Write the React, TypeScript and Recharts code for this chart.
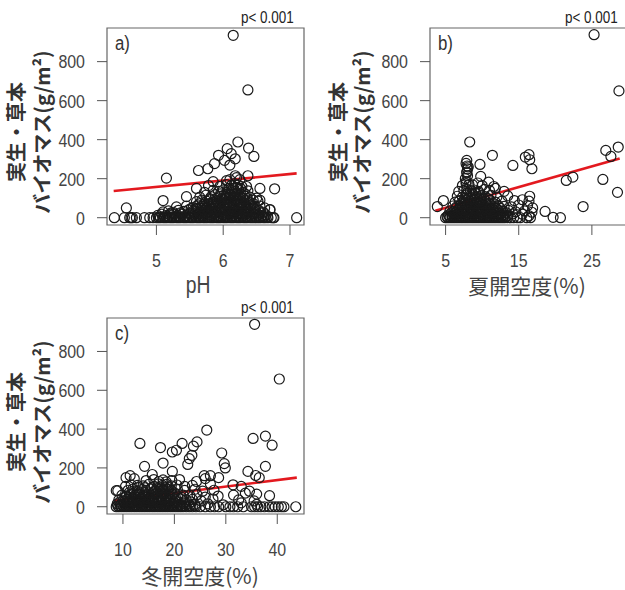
import React from "react";
import { ScatterChart, Scatter, XAxis, YAxis, ReferenceArea, ReferenceLine } from "recharts";

// biomass axis is shared by the three panels
const yTicks = [0, 200, 400, 600, 800];
const yDomain: [number, number] = [-37.4, 972.4];

// a) pH
const phTicks = [5, 6, 7];
const phDomain: [number, number] = [4.26, 7.21];
const phFit = [
  { x: 4.36, y: 137 },
  { x: 7.1, y: 227 },
];
const phPoints: [number, number][] = [
  [4.37, 0], [4.52, 0], [4.6, 0], [4.62, 0], [4.64, 0], [4.7, 0], [4.82, 0], [4.9, 0], [4.95, 0], [5.0, 0],
  [5.03, 0], [5.06, 0], [5.1, 0], [5.13, 0], [5.16, 0], [5.2, 0], [5.23, 0], [5.26, 0], [5.3, 0], [5.33, 0],
  [5.36, 0], [5.4, 0], [5.43, 0], [5.46, 0], [5.5, 0], [5.53, 0], [5.56, 0], [5.6, 0], [5.63, 0], [5.66, 0],
  [5.7, 0], [5.73, 0], [5.76, 0], [5.8, 0], [5.83, 0], [5.86, 0], [5.9, 0], [5.93, 0], [5.96, 0], [6.0, 0],
  [6.03, 0], [6.06, 0], [6.1, 0], [6.13, 0], [6.16, 0], [6.2, 0], [6.23, 0], [6.26, 0], [6.3, 0], [6.33, 0],
  [6.36, 0], [6.4, 0], [6.43, 0], [6.46, 0], [6.5, 0], [6.53, 0], [6.56, 0], [6.6, 0], [6.63, 0], [6.67, 0],
  [6.72, 0], [6.75, 0], [6.76, 0], [7.1, 0],
  [5.05, 5], [5.12, 5], [5.18, 5], [5.24, 5], [5.29, 5], [5.35, 5], [5.42, 5], [5.48, 5], [5.53, 5], [5.58, 5],
  [5.64, 5], [5.69, 5], [5.75, 5], [5.81, 5], [5.87, 5], [5.91, 5], [5.97, 5], [6.02, 5], [6.07, 5], [6.12, 5],
  [6.18, 5], [6.24, 5], [6.29, 5], [6.35, 5], [6.42, 5], [6.48, 5], [6.54, 5], [6.6, 5], [6.66, 5],
  [5.02, 12], [5.08, 18], [5.14, 10], [5.2, 15], [5.26, 20], [5.32, 12], [5.38, 18], [5.44, 10], [5.5, 20], [5.56, 14],
  [5.62, 18], [5.68, 12], [5.74, 20], [5.8, 15], [5.86, 18], [5.92, 12], [5.98, 20], [6.04, 15], [6.1, 18], [6.16, 12],
  [6.22, 20], [6.28, 15], [6.34, 18], [6.4, 12], [6.46, 20], [6.52, 14], [6.58, 10], [6.64, 15],
  [5.22, 25], [5.36, 25], [5.5, 25], [5.58, 25], [5.64, 25], [5.7, 25], [5.76, 25], [5.83, 25], [5.9, 25], [5.96, 25],
  [6.02, 25], [6.08, 25], [6.13, 25], [6.18, 25], [6.23, 25], [6.28, 25], [6.33, 25], [6.38, 25], [6.44, 25], [6.5, 25],
  [6.56, 25],
  [5.1, 30], [5.18, 35], [5.25, 28], [5.33, 38], [5.41, 32], [5.48, 40], [5.55, 35], [5.6, 42], [5.66, 30], [5.71, 38],
  [5.77, 35], [5.82, 42], [5.88, 32], [5.93, 40], [5.99, 36], [6.04, 42], [6.09, 30], [6.14, 38], [6.19, 35], [6.24, 42],
  [6.3, 32], [6.35, 40], [6.41, 35], [6.47, 30], [6.53, 38], [6.6, 28], [6.7, 42],
  [5.52, 48], [5.6, 48], [5.67, 48], [5.74, 48], [5.81, 48], [5.87, 48], [5.93, 48], [5.98, 48], [6.03, 48], [6.08, 48],
  [6.13, 48], [6.18, 48], [6.23, 48], [6.28, 48], [6.33, 48], [6.4, 48], [6.46, 48],
  [5.3, 55], [5.45, 60], [5.55, 52], [5.62, 65], [5.68, 58], [5.73, 62], [5.79, 55], [5.84, 66], [5.9, 58], [5.95, 62],
  [6.0, 56], [6.05, 66], [6.1, 60], [6.15, 55], [6.2, 65], [6.25, 58], [6.3, 62], [6.36, 55], [6.42, 65], [6.48, 58],
  [6.55, 60], [6.62, 50],
  [5.65, 72], [5.72, 72], [5.78, 72], [5.84, 72], [5.9, 72], [5.96, 72], [6.01, 72], [6.06, 72], [6.11, 72], [6.16, 72],
  [6.21, 72], [6.26, 72], [6.32, 72], [6.38, 72], [6.45, 72],
  [5.6, 82], [5.68, 90], [5.75, 85], [5.8, 92], [5.86, 80], [5.91, 88], [5.97, 84], [6.02, 92], [6.07, 80], [6.12, 90],
  [6.17, 85], [6.22, 92], [6.27, 82], [6.33, 88], [6.39, 80], [6.45, 90], [6.52, 85],
  [5.8, 98], [5.9, 98], [5.98, 98], [6.04, 98], [6.1, 98], [6.15, 98], [6.2, 98], [6.25, 98], [6.3, 98], [6.36, 98],
  [5.65, 105], [5.74, 115], [5.82, 108], [5.88, 118], [5.95, 110], [6.01, 115], [6.06, 105], [6.11, 118], [6.16, 110], [6.21, 115],
  [6.26, 108], [6.32, 112], [6.4, 105], [6.5, 100],
  [5.96, 122], [6.05, 122], [6.1, 122], [6.16, 122], [6.21, 122], [6.26, 122], [6.33, 122],
  [5.72, 130], [5.85, 140], [5.93, 135], [6.0, 142], [6.07, 132], [6.13, 140], [6.18, 135], [6.23, 145], [6.29, 130], [6.37, 138],
  [6.55, 150], [6.08, 150], [6.15, 150], [6.2, 150], [6.26, 150],
  [5.78, 165], [5.95, 160], [6.05, 170], [6.12, 165], [6.17, 175], [6.22, 168], [6.28, 160], [6.35, 160], [6.77, 148],
  [5.15, 203], [5.85, 185], [6.1, 195], [6.2, 205], [6.25, 195], [6.18, 215], [6.37, 215], [6.05, 190],
  [5.63, 242], [5.77, 251], [5.87, 277], [5.93, 320], [6.02, 294], [6.06, 354], [6.12, 328], [6.18, 302], [6.1, 270], [6.22, 388],
  [6.38, 357], [6.46, 314], [6.15, 935], [6.37, 655], [5.1, 88], [4.55, 50], [5.45, 108], [6.55, 90], [6.7, 40], [5.6, 150],
];

// b) summer openness
const sumTicks = [5, 15, 25];
const sumDomain: [number, number] = [2.87, 29.8];
const sumFit = [
  { x: 3.6, y: 36 },
  { x: 28.8, y: 304 },
];
const sumPoints: [number, number][] = [
  [5.0, 0], [5.3, 0], [5.6, 0], [5.9, 0], [6.2, 0], [6.5, 0], [6.8, 0], [7.1, 0], [7.4, 0], [7.7, 0],
  [8.0, 0], [8.3, 0], [8.6, 0], [8.9, 0], [9.2, 0], [9.5, 0], [9.8, 0], [10.1, 0], [10.4, 0], [10.7, 0],
  [11.0, 0], [11.3, 0], [11.6, 0], [11.9, 0], [12.2, 0], [12.5, 0], [12.8, 0], [13.1, 0], [13.5, 0], [13.9, 0],
  [14.3, 0], [14.8, 0], [15.2, 0], [16.1, 0], [16.6, 0], [19.7, 2], [20.7, 0],
  [5.2, 6], [5.55, 6], [5.9, 6], [6.25, 6], [6.6, 6], [6.95, 6], [7.3, 6], [7.65, 6], [8.0, 6], [8.35, 6],
  [8.7, 6], [9.05, 6], [9.4, 6], [9.75, 6], [10.1, 6], [10.45, 6], [10.8, 6], [11.15, 6], [11.5, 6], [11.85, 6],
  [12.2, 6], [12.55, 6], [12.9, 6], [13.3, 6],
  [5.4, 15], [5.9, 12], [6.4, 18], [6.9, 14], [7.4, 20], [7.9, 12], [8.4, 18], [8.9, 15], [9.4, 20], [9.9, 12],
  [10.4, 18], [10.9, 14], [11.4, 20], [11.9, 12], [12.4, 18], [12.9, 15], [13.5, 10], [14.2, 20], [15.5, 18], [16.4, 10],
  [5.8, 25], [6.3, 25], [6.8, 25], [7.2, 25], [7.6, 25], [8.0, 25], [8.4, 25], [8.8, 25], [9.2, 25], [9.6, 25],
  [10.0, 25], [10.4, 25], [10.8, 25], [11.2, 25], [11.7, 25], [12.2, 25], [12.7, 25], [13.3, 25],
  [5.6, 35], [6.1, 32], [6.6, 38], [7.1, 30], [7.6, 40], [8.1, 35], [8.6, 38], [9.1, 32], [9.6, 40], [10.1, 34],
  [10.6, 38], [11.1, 30], [11.6, 36], [12.1, 40], [12.8, 32], [13.6, 38], [14.6, 30], [15.8, 35], [18.6, 32], [16.8, 28],
  [6.4, 48], [6.9, 48], [7.3, 48], [7.7, 48], [8.1, 48], [8.5, 48], [8.9, 48], [9.3, 48], [9.7, 48], [10.1, 48],
  [10.5, 48], [10.9, 48], [11.4, 48], [11.9, 48], [12.5, 48],
  [6.0, 60], [6.5, 55], [7.0, 62], [7.5, 58], [8.0, 65], [8.5, 55], [9.0, 62], [9.5, 58], [10.0, 64], [10.5, 55],
  [11.0, 60], [11.5, 56], [12.2, 62], [13.0, 58], [14.0, 55], [15.0, 65], [16.2, 62], [3.87, 57], [23.8, 57], [16.9, 50],
  [7.1, 72], [7.6, 72], [8.0, 72], [8.4, 72], [8.8, 72], [9.2, 72], [9.6, 72], [10.0, 72], [10.5, 72], [11.0, 72],
  [11.6, 72],
  [4.7, 88], [6.3, 80], [6.9, 88], [7.4, 82], [7.9, 90], [8.4, 85], [8.9, 92], [9.4, 80], [9.9, 88], [10.5, 84],
  [11.1, 90], [11.8, 80], [12.7, 85], [14.4, 88], [15.5, 92], [16.4, 85],
  [7.6, 98], [8.1, 98], [8.5, 98], [8.9, 98], [9.3, 98], [9.7, 98], [10.2, 98], [10.8, 98],
  [6.6, 110], [7.3, 105], [7.8, 115], [8.3, 110], [8.8, 118], [9.3, 105], [9.8, 112], [10.4, 108], [11.2, 115], [12.0, 105],
  [13.5, 112], [16.5, 110], [7.9, 125], [8.6, 125], [9.1, 125], [9.6, 125],
  [6.8, 135], [7.5, 140], [7.9, 145], [8.4, 138], [8.9, 142], [9.5, 135], [10.3, 145], [11.0, 140], [11.8, 150], [13.0, 135],
  [7.3, 165], [7.8, 175], [8.2, 170], [8.7, 168], [9.4, 178], [10.0, 165], [10.9, 182], [11.6, 160],
  [7.8, 185], [8.0, 215], [7.9, 235], [8.1, 260],
  [7.7, 200], [7.9, 230], [8.0, 250], [7.8, 278], [7.9, 294], [7.95, 265], [8.3, 388], [9.7, 273], [9.8, 212], [11.4, 320],
  [14.2, 268], [15.9, 311], [16.4, 323], [16.5, 297], [16.8, 251], [21.5, 191], [22.4, 208], [26.5, 196], [26.9, 345], [27.6, 314],
  [28.6, 362], [28.5, 130], [25.3, 938], [28.7, 650],
];

// c) winter openness
const winTicks = [10, 20, 30, 40];
const winDomain: [number, number] = [6.9, 45.2];
const winFit = [
  { x: 8.3, y: 31 },
  { x: 43.8, y: 150 },
];
const winPoints: [number, number][] = [
  [8.7, 0], [9.2, 0], [9.7, 0], [10.2, 0], [10.7, 0], [11.2, 0], [11.7, 0], [12.2, 0], [12.7, 0], [13.2, 0],
  [13.7, 0], [14.2, 0], [14.7, 0], [15.2, 0], [15.7, 0], [16.2, 0], [16.7, 0], [17.2, 0], [17.7, 0], [18.2, 0],
  [18.7, 0], [19.2, 0], [19.7, 0], [20.2, 0], [20.7, 0], [21.2, 0], [21.7, 0], [22.3, 0], [22.9, 0], [23.5, 0],
  [24.2, 0], [25.0, 0], [26.0, 0], [27.0, 0], [27.8, 0], [28.6, 0], [30.0, 0], [30.8, 0], [31.5, 0], [32.3, 0],
  [33.4, 0], [35.0, 0], [35.6, 0], [36.2, 0], [36.8, 0], [37.5, 0], [38.4, 0], [39.0, 0], [39.6, 0], [40.2, 0],
  [40.8, 0], [41.3, 0], [43.6, 0],
  [9.0, 5], [9.5, 5], [10.0, 5], [10.5, 5], [11.0, 5], [11.5, 5], [12.0, 5], [12.5, 5], [13.0, 5], [13.5, 5],
  [14.0, 5], [14.5, 5], [15.0, 5], [15.5, 5], [16.0, 5], [16.5, 5], [17.0, 5], [17.5, 5], [18.0, 5], [18.5, 5],
  [19.0, 5], [19.5, 5], [20.0, 5], [20.5, 5], [21.0, 5], [21.5, 5], [22.0, 5], [23.0, 5], [24.0, 5],
  [8.9, 15], [9.6, 12], [10.3, 18], [11.0, 14], [11.7, 20], [12.4, 12], [13.1, 18], [13.8, 15], [14.5, 20], [15.2, 12],
  [15.9, 18], [16.6, 14], [17.3, 20], [18.0, 12], [18.7, 18], [19.4, 15], [20.1, 20], [20.9, 12], [21.8, 18], [22.8, 15],
  [24.0, 12], [26.5, 15], [29.5, 10], [33.0, 20], [36.0, 12],
  [9.4, 25], [10.2, 25], [11.0, 25], [11.8, 25], [12.6, 25], [13.4, 25], [14.2, 25], [15.0, 25], [15.8, 25], [16.6, 25],
  [17.4, 25], [18.2, 25], [19.0, 25], [19.8, 25], [20.8, 25], [22.0, 25], [23.2, 25],
  [9.2, 35], [10.0, 30], [10.8, 38], [11.5, 32], [12.2, 40], [12.9, 34], [13.6, 38], [14.3, 30], [15.0, 40], [15.7, 35],
  [16.4, 38], [17.1, 32], [17.8, 40], [18.5, 34], [19.3, 38], [20.2, 30], [21.2, 40], [22.3, 35], [23.5, 38], [25.2, 30],
  [27.5, 40], [32.5, 35], [35.5, 30],
  [10.4, 48], [11.2, 48], [12.0, 48], [12.8, 48], [13.6, 48], [14.4, 48], [15.2, 48], [16.0, 48], [16.8, 48], [17.6, 48],
  [18.4, 48], [19.2, 48], [20.2, 48], [21.4, 48],
  [9.8, 60], [10.7, 55], [11.5, 62], [12.3, 58], [13.1, 65], [13.9, 55], [14.7, 62], [15.5, 58], [16.3, 65], [17.1, 55],
  [17.9, 62], [18.7, 58], [19.6, 64], [20.6, 55], [21.7, 60], [23.0, 58], [24.4, 62], [26.0, 50], [28.5, 55], [31.5, 60],
  [33.8, 70], [36.0, 65], [38.5, 57],
  [11.2, 72], [12.2, 72], [13.2, 72], [14.2, 72], [15.0, 72], [15.8, 72], [16.6, 72], [17.4, 72], [18.2, 72], [19.0, 72],
  [20.0, 72],
  [9.0, 83], [11.0, 85], [11.9, 90], [12.8, 82], [13.6, 88], [14.5, 84], [15.4, 92], [16.2, 80], [17.0, 88], [17.8, 85],
  [18.6, 90], [19.5, 82], [20.6, 88], [22.0, 84], [24.0, 90], [25.5, 80], [27.7, 85], [31.4, 113], [34.6, 80],
  [13.0, 98], [14.2, 98], [15.6, 98], [16.6, 98], [17.4, 98], [18.2, 98], [19.0, 98],
  [10.5, 105], [11.6, 112], [12.8, 110], [13.9, 108], [15.0, 115], [16.1, 105], [16.9, 118], [17.7, 110], [18.5, 115], [19.4, 108],
  [20.5, 112], [22.0, 105], [23.5, 110], [27.0, 118], [33.0, 105],
  [10.6, 150], [11.4, 160], [12.2, 145], [14.5, 135], [16.0, 140], [17.0, 130], [17.8, 138], [18.4, 128], [19.5, 135], [21.0, 140],
  [24.3, 130], [26.0, 145], [28.6, 150],
  [13.3, 326], [17.3, 305], [21.5, 326], [24.4, 334], [23.7, 312], [26.3, 395], [19.6, 282], [20.4, 291], [22.9, 248], [23.4, 265],
  [22.6, 218], [29.2, 277], [29.7, 222], [29.9, 200], [35.3, 352], [37.7, 364], [39.0, 317], [37.7, 208], [34.3, 182], [35.8, 161],
  [14.2, 208], [17.8, 225], [19.6, 182], [15.7, 166], [8.7, 83], [35.6, 940], [40.4, 658], [25.8, 160], [27.0, 160], [36.5, 150],
];

const SANS = "'Liberation Sans', Arial, sans-serif";
const CJK = "'Noto Sans CJK JP', 'Noto Sans', sans-serif";
const INK = "#444";
const SQUEEZE = 0.84; // the original uses a condensed Helvetica

const Ring = (props: any) => (
  <circle cx={props.cx} cy={props.cy} r={5} fill="none" stroke="#1a1a1a" strokeWidth={1.2} />
);

const XTick = ({ x, y, payload }: any) => (
  <g transform={`translate(${x},${y})`}>
    <text transform={`scale(${SQUEEZE},1)`} textAnchor="middle" dy="0.71em" fill={INK} fontSize={19} fontFamily={SANS}>
      {payload.value}
    </text>
  </g>
);

const YTick = ({ x, y, payload }: any) => (
  <g transform={`translate(${x},${y})`}>
    <text transform={`scale(${SQUEEZE},1)`} textAnchor="end" dy="0.36em" fill={INK} fontSize={19} fontFamily={SANS}>
      {payload.value}
    </text>
  </g>
);

type PanelProps = {
  left: number;
  top: number;
  width: number;
  margin: { top: number; right: number; bottom: number; left: number };
  points: [number, number][];
  xDomain: [number, number];
  xTicks: number[];
  fit: { x: number; y: number }[];
  tag: string;
  xTitle: string;
  titleX: number;
  ylab1: number;
  ylab2: number;
  pX: number;
};

const Panel = (p: PanelProps) => {
  const data = p.points.map(([x, y]) => ({ x, y }));
  const latinTitle = p.xTitle === "pH";
  return (
    <div style={{ position: "absolute", left: p.left, top: p.top, width: p.width, height: 300 }}>
      <ScatterChart width={p.width} height={300} margin={p.margin}>
        <XAxis
          type="number"
          dataKey="x"
          domain={p.xDomain}
          ticks={p.xTicks}
          interval={0}
          allowDataOverflow
          axisLine={false}
          tickLine={{ stroke: "#555" }}
          tickSize={10}
          tickMargin={18}
          height={40}
          tick={<XTick />}
        />
        <YAxis
          type="number"
          dataKey="y"
          domain={yDomain}
          ticks={yTicks}
          interval={0}
          allowDataOverflow
          axisLine={false}
          tickLine={{ stroke: "#555" }}
          tickSize={10}
          tickMargin={12}
          width={50}
          tick={<YTick />}
        />
        <ReferenceArea
          x1={p.xDomain[0]}
          x2={p.xDomain[1]}
          y1={yDomain[0]}
          y2={yDomain[1]}
          fill="none"
          stroke="#666"
          strokeWidth={1.2}
          ifOverflow="visible"
        />
        <Scatter data={data} shape={Ring} isAnimationActive={false} />
        <ReferenceLine segment={p.fit} stroke="#e3191f" strokeWidth={2.6} ifOverflow="visible" />
      </ScatterChart>
      <div
        style={{
          position: "absolute",
          left: p.margin.left + 58,
          top: p.margin.top + 4,
          fontFamily: SANS,
          fontSize: 20,
          color: "#333",
          transform: `scaleX(${SQUEEZE})`,
          transformOrigin: "left top",
        }}
      >
        {p.tag}
      </div>
      <div
        style={{
          position: "absolute",
          left: p.pX,
          top: 9,
          fontFamily: SANS,
          fontSize: 16,
          color: "#222",
          whiteSpace: "nowrap",
          transform: `scaleX(${SQUEEZE})`,
          transformOrigin: "left top",
        }}
      >
        p&lt; 0.001
      </div>
      <div
        style={{
          position: "absolute",
          left: p.titleX,
          top: 285,
          transform: latinTitle ? `translate(-50%, -50%) scaleX(${SQUEEZE})` : "translate(-50%, -50%)",
          fontFamily: latinTitle ? SANS : CJK,
          fontSize: latinTitle ? 23 : 21,
          color: INK,
          whiteSpace: "nowrap",
        }}
      >
        {p.xTitle}
      </div>
      <div
        style={{
          position: "absolute",
          left: p.ylab1,
          top: 132,
          transform: "translate(-50%, -50%) rotate(-90deg)",
          fontFamily: CJK,
          fontWeight: 700,
          fontSize: 20,
          color: "#333",
          whiteSpace: "nowrap",
        }}
      >
        実生・草本
      </div>
      <div
        style={{
          position: "absolute",
          left: p.ylab2,
          top: 132,
          transform: "translate(-50%, -50%) rotate(-90deg)",
          fontFamily: CJK,
          fontWeight: 700,
          fontSize: 20,
          color: "#333",
          whiteSpace: "nowrap",
        }}
      >
        バイオマス(g/m²)
      </div>
    </div>
  );
};

const App = () => (
  <div style={{ position: "absolute", left: 0, top: 0, width: 625, height: 590, overflow: "hidden", background: "#fff" }}>
    <Panel
      left={0}
      top={0}
      width={310}
      margin={{ top: 28, right: 6, bottom: 35, left: 57 }}
      points={phPoints}
      xDomain={phDomain}
      xTicks={phTicks}
      fit={phFit}
      tag="a)"
      xTitle="pH"
      titleX={198}
      ylab1={15}
      ylab2={41}
      pX={241}
    />
    <Panel
      left={310}
      top={0}
      width={330}
      margin={{ top: 28, right: 13, bottom: 35, left: 70 }}
      points={sumPoints}
      xDomain={sumDomain}
      xTicks={sumTicks}
      fit={sumFit}
      tag="b)"
      xTitle="夏開空度(%)"
      titleX={217}
      ylab1={27}
      ylab2={51}
      pX={255}
    />
    <Panel
      left={0}
      top={290}
      width={310}
      margin={{ top: 28, right: 6, bottom: 36, left: 57 }}
      points={winPoints}
      xDomain={winDomain}
      xTicks={winTicks}
      fit={winFit}
      tag="c)"
      xTitle="冬開空度(%)"
      titleX={200}
      ylab1={15}
      ylab2={41}
      pX={241}
    />
  </div>
);

export default App;
